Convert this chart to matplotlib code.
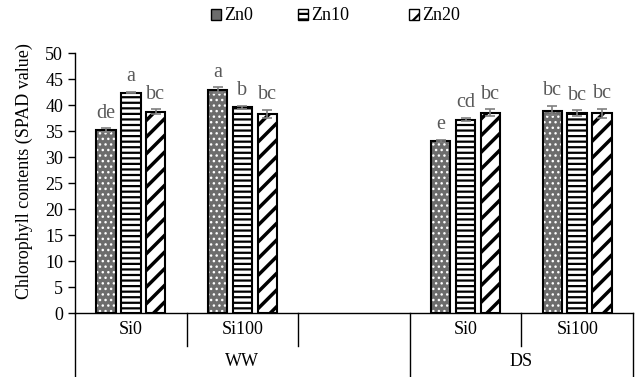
import numpy as np
import matplotlib
matplotlib.use('Agg')
import matplotlib.pyplot as plt
from matplotlib.patches import Patch

plt.rcParams['font.family'] = ['Liberation Serif', 'DejaVu Serif']
plt.rcParams['hatch.linewidth'] = 1.6

# x-axis layout: five slots, the third one is left empty
slot_labels = ['Si0', 'Si100', '', 'Si0', 'Si100']
water_labels = ['WW', 'DS']
data_slots = [0, 1, 3, 4]

series = ['Zn0', 'Zn10', 'Zn20']
means = {
    'Zn0':  [35.2, 42.9, 33.1, 38.9],
    'Zn10': [42.4, 39.6, 37.2, 38.4],
    'Zn20': [38.7, 38.3, 38.5, 38.4],
}
errors = {
    'Zn0':  [0.3, 0.5, 0.2, 0.9],
    'Zn10': [0.15, 0.3, 0.3, 0.6],
    'Zn20': [0.5, 0.8, 0.7, 0.9],
}
letters = {
    'Zn0':  ['de', 'a', 'e', 'bc'],
    'Zn10': ['a', 'b', 'cd', 'bc'],
    'Zn20': ['bc', 'bc', 'bc', 'bc'],
}

fig = plt.figure(figsize=(6.35, 3.77), dpi=100)
ax = fig.add_axes([75 / 635, 64 / 377, 558 / 635, 260 / 377])

width = 0.175
offsets = [-0.223, 0.0, 0.223]
styles = {
    'Zn0':  dict(face='#6c6c6c', hatch='...', hcolor='white'),
    'Zn10': dict(face='white', hatch='---', hcolor='black'),
    'Zn20': dict(face='white', hatch='//', hcolor='black'),
}
hatch_lw = {'Zn0': 1.0, 'Zn10': 1.6, 'Zn20': 2.5}

x = np.array(data_slots) + 0.5
for s, off in zip(series, offsets):
    st = styles[s]
    xs = x + off
    # fill + hatch layer
    bars = ax.bar(xs, means[s], width, color=st['face'], edgecolor=st['hcolor'],
                  hatch=st['hatch'], linewidth=0, zorder=2)
    for b in bars:
        if hasattr(b, 'set_hatch_linewidth'):
            b.set_hatch_linewidth(hatch_lw[s])
    # outline layer
    ax.bar(xs, means[s], width, color='none', edgecolor='black',
           linewidth=1.5, zorder=3)
    ax.errorbar(xs, means[s], yerr=errors[s], fmt='none', ecolor='#7f7f7f',
                elinewidth=1.2, capsize=3.5, capthick=1.2, zorder=4)
    for xi, m, e, t in zip(xs, means[s], errors[s], letters[s]):
        ax.annotate(t, (xi, m + e), xytext=(0, 4), textcoords='offset points',
                    ha='center', va='bottom', fontsize=14.5, color='#595959')

ax.set_xlim(0, 5)
ax.set_ylim(0, 50)
ax.set_yticks(np.arange(0, 51, 5))
ax.tick_params(axis='y', labelsize=13, length=5, width=1, direction='out')
ax.set_xticks([])
ax.set_ylabel('Chlorophyll contents (SPAD value)', fontsize=13)
ax.yaxis.set_label_coords(-0.075, 0.546)

for side in ['top', 'right', 'bottom']:
    ax.spines[side].set_visible(False)
ax.spines['left'].set_linewidth(1)
ax.spines['left'].set_bounds(0, 50)

# multi-level category axis drawn in axes coordinates below the baseline
trans = ax.get_xaxis_transform()
row1 = -33 / 260
row2 = -64 / 260
ax.plot([0, 5], [0, 0], transform=trans, color='black', lw=1, clip_on=False)
for xi in [0, 5]:
    ax.plot([xi, xi], [0, row2], transform=trans, color='black', lw=1, clip_on=False)
ax.plot([3, 3], [0, row2], transform=trans, color='black', lw=1, clip_on=False)
for xi in [1, 2, 4]:
    ax.plot([xi, xi], [0, row1], transform=trans, color='black', lw=1, clip_on=False)

for i, lab in enumerate(slot_labels):
    if lab:
        ax.text(i + 0.5, -17 / 260, lab, transform=trans, ha='center', va='center', fontsize=13)
ax.text(1.5, -49 / 260, water_labels[0], transform=trans, ha='center', va='center', fontsize=13)
ax.text(4.0, -49 / 260, water_labels[1], transform=trans, ha='center', va='center', fontsize=13)

# legend entries placed one by one across the top
legend_x = [211, 298, 409]
for s, lx in zip(series, legend_x):
    h = Patch(facecolor=styles[s]['face'], edgecolor='black',
              hatch=None if s == 'Zn0' else styles[s]['hatch'], label=s)
    fig.legend(handles=[h], loc='center left', bbox_to_anchor=(lx / 635, 1 - 16 / 377),
               frameon=False, fontsize=13, handlelength=0.55, handleheight=0.55,
               handletextpad=0.2, borderpad=0, borderaxespad=0)

fig.savefig('out.png', dpi=100)
